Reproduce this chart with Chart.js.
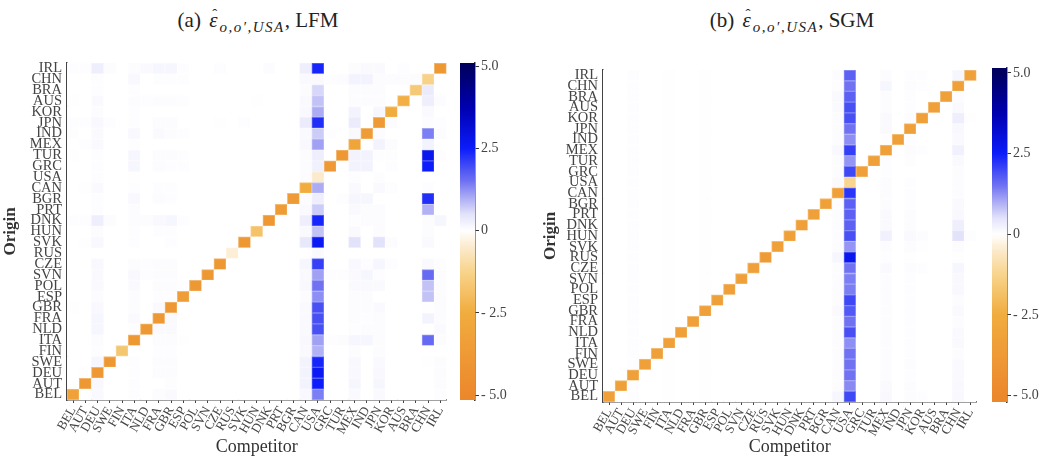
<!DOCTYPE html>
<html>
<head>
<meta charset="utf-8">
<script src="https://cdn.jsdelivr.net/npm/chart.js@4.4.1/dist/chart.umd.min.js"></script>
<style>
  body { margin: 0; background: #fff; width: 1042px; height: 461px; position: relative; overflow: hidden; font-family: "Liberation Serif", serif; }
  canvas { position: absolute; top: 0; }
  .title { position: absolute; top: 8px; font-size: 21px; color: #222; white-space: nowrap; transform: translateX(-50%); }
  .title .eps { position: relative; font-style: italic; margin-left: 3px; }
  .title .eps::after { content: "\02C6"; position: absolute; left: 3px; top: -2px; font-style: normal; font-size: 15px; }
  .title sub { font-size: 15px; font-style: italic; letter-spacing: 1.5px; vertical-align: -5px; margin-left: 2px; }
</style>
</head>
<body>
<div class="title" style="left:258px">(a) <span class="eps">ε</span><sub>o,o′,USA</sub>, LFM</div>
<div class="title" style="left:792px">(b) <span class="eps">ε</span><sub>o,o′,USA</sub>, SGM</div>
<canvas id="lfm" width="455" height="461" style="left:0"></canvas>
<canvas id="lfmBar" width="85" height="461" style="left:455px"></canvas>
<canvas id="sgm" width="445" height="461" style="left:540px"></canvas>
<canvas id="sgmBar" width="57" height="461" style="left:985px"></canvas>
<script>
// countries, same order on both axes (BEL at bottom / left)
const countries = ["BEL","AUT","DEU","SWE","FIN","ITA","NLD","FRA","GBR","ESP",
  "POL","SVN","CZE","RUS","SVK","HUN","DNK","PRT","BGR","CAN",
  "USA","GRC","TUR","MEX","IND","JPN","KOR","AUS","BRA","CHN","IRL"];

// colorbar ticks
const barTicks = [5, 2.5, 0, -2.5, -5];
const barTickLabels = ["5.0", "2.5", "0", "- 2.5", "- 5.0"];

// LFM: one row per origin (BEL ... IRL), values per competitor
const lfm = [
  [-3.2,0,0.1,0,0,0.03,0,0.06,0.08,0, 0,0,0,0,0,0,0,0,0,0.12, 1.4,0,0,0.08,0,0.08,0,0,0,0,0.03],
  [0,-3.9,0.12,0,0,0.03,0,0,0.03,0, 0,0,0,0,0,0,0,0,0,0.2, 2.5,0,0,0.15,0,0.15,0,0,0,0,0.05],
  [0,0.02,-3.9,0,0,0.03,0,0.05,0.05,0, 0,0,0,0,0,0,0,0,0,0.2, 2.6,0,0,0.12,0,0.12,0,0,0,0,0.05],
  [0,0,0.15,-3.9,0,0.03,0,0.05,0.06,0, 0,0,0,0,0,0,0,0,0,0.2, 2.4,0,0,0.12,0,0.1,0,0,0,0.02,0.05],
  [0,0,0.04,0,-1.7,0,0,0.03,0.03,0, 0,0,0,0,0,0,0,0,0,0.08, 0.95,0,0,0.05,0,0.05,0,0,0,0,0],
  [0,0,0.06,0,0,-3.9,0,0.06,0.06,0.02, 0,0,0,0,0,0,0,0,0,0.12, 1.1,0.03,0.05,0.15,0.15,0.05,0,0,0,1.6,0.05],
  [0,0,0.15,0,0,0.04,-3.9,0.08,0.08,0, 0,0,0,0,0,0,0,0,0,0.1, 1.9,0,0,0.03,0.05,0.05,0,0,0,0,0.08],
  [0,0,0.15,0,0,0.08,0,-3.9,0.1,0, 0,0,0,0,0,0,0,0,0,0.1, 1.9,0,0,0.05,0.03,0.05,0,0,0,0.2,0.05],
  [0.02,0,0.12,0,0,0.06,0,0.08,-3.9,0, 0,0,0,0,0,0,0,0,0,0.1, 1.9,0,0,0.05,0.05,0.08,0,0,0,0.02,0.05],
  [0,0,0.06,0,0,0.06,0,0.04,0.04,-3.5, 0,0,0,0,0,0,0,0,0,0.06, 1.25,0,0,0.05,0.05,0,0,0,0,0.8,0.05],
  [0,0,0.1,0,0,0.08,0,0.06,0.06,0.02, -3.9,0,0,0,0,0,0,0,0,0.12, 1.5,0,0,0.08,0.1,0.1,0,0,0,0.8,0.05],
  [0,0,0.08,0,0,0.12,0.03,0.06,0.06,0, 0,-3.9,0,0,0,0,0,0,0,0.08, 1.1,0.03,0.03,0.1,0.15,0.03,0,0,0,1.6,0.05],
  [0,0,0.12,0,0,0.05,0.03,0.06,0.06,0, 0,0,-3.9,0,0,0,0,0,0,0.15, 2.1,0,0,0.12,0.03,0.15,0.03,0,0,0.1,0.03],
  [0,0,0,0,0,0,0,0,0,0, 0,0,0,-0.4,0,0,0,0,0,0, 0.08,0,0,0,0,0,0,0,0,0,0],
  [0,0.02,0.12,0,0,0.03,0,0,0.03,0, 0,0,0,0,-3.9,0,0,0,0,0.4, 2.6,0,0,0.5,0,0.5,0.05,0,0,0.1,0],
  [0,0,0.05,0,0,0.03,0,0.03,0.03,0, 0,0,0,0,0,-1.8,0,0,0,0.1, 0.8,0,0,0.08,0,0.05,0,0,0,0.05,0],
  [0.03,0.03,0.3,0.05,0,0.06,0.06,0.12,0.15,0.03, 0,0,0,0,0,0,-3.9,0,0,0.3, 2.4,0,0,0.03,0.05,0.05,0,0,0,0.05,0.15],
  [0,0,0.03,0,0,0.05,0,0,0,0, 0,0,0,0,0,0,0,-3.6,0,0.08, 0.7,0,0,0.1,0.05,0.05,0,0,0,0.95,0],
  [0,0,0.03,0,0,0.12,0,0.05,0.03,0, 0,0,0,0,0,0,0,0,-3.7,0.05, 0.3,0,0.03,0.15,0.15,0,0,0,0,2.3,0],
  [0,0.02,0.08,0,0,0.03,0,0.04,0.04,0, 0,0,0,0,0,0,0,0,0,-2.5, 1.0,0,0,0.1,0,0.1,0.03,0,0,0.03,0],
  [0,0,0.04,0,0,0.02,0,0,0,0, 0,0,0,0,0,0,0,0,0,0.05, -0.5,0,0,0.03,0,0.03,0,0,0,0,0],
  [0,0,0.03,0,0,0.15,0,0.05,0.03,0.03, 0,0,0,0,0,0,0,0,0,0.05, 0.25,-3.8,0,0.2,0.2,0,0.03,0,0,2.5,0],
  [0.02,0,0.03,0,0,0.15,0,0.06,0.05,0.03, 0,0,0,0,0,0,0,0,0,0.05, 0.3,0,-3.9,0.2,0.2,0.03,0.03,0,0,2.7,0.03],
  [0,0.03,0.08,0,0,0.03,0,0,0,0, 0,0,0,0,0,0,0,0,0,0.12, 1.1,0,0,-3.0,0,0.2,0.05,0,0,0.2,0],
  [0.03,0,0.08,0,0,0.12,0,0.08,0.06,0.03, 0,0,0,0,0,0,0,0,0,0.1, 0.7,0.03,0,0.1,-3.6,0.05,0,0,0,1.4,0.05],
  [0.03,0.03,0.12,0.03,0,0.03,0,0.05,0.05,0, 0,0,0.02,0,0.03,0,0,0,0,0.35, 2.3,0,0,0.35,0,-3.7,0.05,0,0,0.05,0.03],
  [0,0,0.05,0,0,0.03,0,0,0,0, 0,0,0,0,0,0,0,0,0,0.12, 1.0,0,0,0.2,0,0.15,-2.5,0,0,0.1,0],
  [0.02,0,0.08,0,0,0.05,0.03,0.06,0.06,0.03, 0,0,0,0,0,0.02,0,0,0,0.08, 0.8,0,0,0.05,0.05,0.05,0,-2.4,0,0.3,0.05],
  [0,0,0.03,0,0,0.03,0,0,0,0, 0,0,0,0,0,0,0,0,0,0.05, 0.6,0,0,0.05,0.05,0.05,0,0,-1.6,0.35,0],
  [0,0,0.03,0,0,0.12,0,0.03,0.03,0.03, 0,0,0,0,0,0,0,0,0,0.08, 0.1,0.03,0.05,0.2,0.2,0.05,0.05,0.05,0.05,-1.3,0],
  [0.03,0.03,0.3,0.05,0,0.05,0.08,0.15,0.15,0.03, 0,0,0.03,0,0,0,0.05,0,0,0.3, 2.4,0,0,0.05,0.1,0.1,0,0.03,0,0,-3.9]
];

// SGM: one row per origin (BEL ... IRL)
const sgm = [
  [-3.3,0,0.04,0,0,0.02,0,0,0.02,0, 0,0,0,0,0,0,0,0,0,0.15, 2.0,0,0,0.12,0,0.06,0.03,0,0,0.12,0],
  [0,-3.3,0.04,0,0,0.02,0,0,0.02,0, 0,0,0,0,0,0,0,0,0,0.06, 1.3,0,0,0.08,0,0.05,0,0,0,0.12,0],
  [0,0,-3.3,0,0,0.02,0,0,0.02,0, 0,0,0,0,0,0,0,0,0,0.06, 1.5,0,0,0.06,0,0.03,0,0,0,0.1,0],
  [0,0,0.04,-3.3,0,0.02,0,0,0.02,0, 0,0,0,0,0,0,0,0,0,0.05, 1.5,0,0,0.06,0,0.05,0,0,0,0.1,0],
  [0,0,0.04,0,-3.3,0.02,0,0,0.02,0, 0,0,0,0,0,0,0,0,0,0.05, 1.5,0,0,0.05,0,0.03,0,0,0,0.06,0],
  [0,0,0.04,0,0,-3.3,0,0,0.02,0, 0,0,0,0,0,0,0,0,0,0.05, 1.25,0,0,0.06,0,0.03,0,0,0,0.1,0],
  [0,0,0.04,0,0,0.02,-3.3,0,0.02,0, 0,0,0,0,0,0,0,0,0,0.05, 1.9,0,0,0.05,0,0.03,0,0,0,0.08,0],
  [0,0,0.04,0,0,0.02,0,-3.3,0.02,0, 0,0,0,0,0,0,0,0,0,0.05, 1.5,0,0,0.05,0,0.03,0,0,0,0.06,0],
  [0,0,0.04,0,0,0.02,0,0,-3.3,0, 0,0,0,0,0,0,0,0,0,0.08, 1.8,0,0,0.05,0,0.03,0,0,0,0.08,0],
  [0,0,0.04,0,0,0.02,0,0,0.02,-3.3, 0,0,0,0,0,0,0,0,0,0.05, 2.0,0,0,0.05,0,0.03,0,0,0,0.06,0],
  [0,0,0.04,0,0,0.02,0,0,0.02,0, -3.3,0,0,0,0,0,0,0,0,0.05, 1.4,0,0,0.06,0,0.03,0,0,0,0.12,0],
  [0,0,0.04,0,0,0.02,0,0,0.02,0, 0,-3.3,0,0,0,0,0,0,0,0.05, 1.4,0,0,0.06,0,0.04,0,0,0,0.12,0],
  [0,0,0.04,0,0,0.02,0,0,0.02,0, 0,0,-3.3,0,0,0,0,0,0,0.05, 1.5,0,0,0.08,0,0.06,0.03,0,0,0.15,0],
  [0,0,0.04,0,0,0.02,0,0,0.02,0, 0,0,0,-3.7,0,0,0,0,0,0.15, 2.7,0,0,0.03,0,0.02,0,0,0,0.02,0],
  [0,0,0.04,0,0,0.02,0,0,0.02,0, 0,0,0,0,-3.3,0,0,0,0,0.05, 1.2,0,0,0.05,0,0.05,0.02,0,0,0.06,0],
  [0,0,0.04,0,0,0.02,0,0,0.02,0, 0,0,0,0,0,-3.3,0,0,0,0.05, 1.9,0,0,0.25,0,0.1,0.05,0,0,0.5,0.03],
  [0,0,0.04,0,0,0.02,0,0,0.02,0, 0,0,0,0,0,0,-3.3,0,0,0.05, 1.7,0,0,0.1,0,0.06,0,0,0,0.3,0],
  [0,0,0.04,0,0,0.02,0,0,0.02,0, 0,0,0,0,0,0,0,-3.3,0,0.05, 1.7,0,0,0.08,0,0.05,0,0,0,0.12,0],
  [0,0,0.04,0,0,0.02,0,0,0.02,0, 0,0,0,0,0,0,0,0,-3.3,0.03, 1.7,0,0,0.06,0,0.03,0,0,0,0.1,0],
  [0,0,0.04,0,0,0.02,0,0,0.02,0, 0,0,0,0,0,0,0,0,0,-3.3, 2.2,0,0,0.06,0,0.03,0,0,0,0.05,0],
  [0,0,0.04,0,0,0.02,0,0,0.02,0, 0,0,0,0,0,0,0,0,0,0.08, -1.2,0,0,0.05,0,0.03,0,0,0,0.05,0],
  [0,0,0.04,0,0,0.02,0,0,0.02,0, 0,0,0,0,0,0,0,0,0,0.06, 2.0,-3.3,0,0.03,0,0,0,0,0,0.06,0],
  [0,0,0.04,0,0,0.02,0,0,0.02,0, 0,0,0,0,0,0,0,0,0,0.05, 1.2,0,-3.3,0.03,0,0.03,0,0,0,0.08,0],
  [0,0,0.04,0,0,0.02,0,0,0.02,0, 0,0,0,0,0,0,0,0,0,0.12, 2.1,0,0,-3.3,0,0.05,0.03,0,0,0.25,0],
  [0,0,0.04,0,0,0.02,0,0,0.02,0, 0,0,0,0,0,0,0,0,0,0.05, 1.25,0,0,0.03,-3.3,0.03,0,0,0,0.1,0],
  [0,0,0.04,0,0,0.02,0,0,0.02,0, 0,0,0,0,0,0,0,0,0,0.06, 1.5,0,0,0.08,0,-3.3,0,0,0,0.12,0],
  [0,0,0.04,0,0,0.02,0,0,0.02,0, 0,0,0,0,0,0,0,0,0,0.06, 1.9,0,0,0.1,0,0.06,-3.3,0,0,0.3,0.02],
  [0,0,0.04,0,0,0.02,0,0,0.02,0, 0,0,0,0,0,0,0,0,0,0.08, 1.9,0,0,0.05,0,0.03,0,-3.3,0,0.08,0],
  [0,0,0.04,0,0,0.02,0,0,0.02,0, 0,0,0,0,0,0,0,0,0,0.1, 1.7,0,0,0.05,0,0.03,0,0,-3.3,0.06,0],
  [0,0,0.04,0,0,0.02,0,0,0.02,0, 0,0,0,0,0,0,0,0,0,0.03, 1.5,0,0,0.15,0,0.05,0.03,0,0,-3.3,0],
  [0,0,0.04,0,0,0.02,0,0,0.02,0, 0,0,0,0,0,0,0,0,0,0.05, 1.7,0,0,0.06,0,0.03,0.03,0,0,0.15,-3.3]
];

// diverging colour map: white at 0, blue above, orange below
const posStops = [[0,[255,255,255]],[0.5,[226,226,250]],[1,[172,172,245]],[1.5,[112,114,242]],
  [2,[62,72,245]],[2.5,[12,28,250]],[3.75,[0,0,175]],[5,[0,0,95]]];
const negStops = [[0,[255,255,255]],[0.5,[252,234,204]],[1.25,[248,212,140]],[2.5,[241,172,62]],[5,[236,136,44]]];

function rgbFor(v) {
  const stops = v >= 0 ? posStops : negStops;
  const a = Math.min(Math.abs(v), 5);
  for (let i = 1; i < stops.length; i++) {
    if (a <= stops[i][0]) {
      const [v0, c0] = stops[i - 1], [v1, c1] = stops[i];
      const t = (a - v0) / (v1 - v0);
      return c0.map((x, k) => Math.round(x + (c1[k] - x) * t));
    }
  }
  return stops[stops.length - 1][1];
}
function colorFor(v) {
  const c = rgbFor(v);
  return `rgb(${c[0]},${c[1]},${c[2]})`;
}
// slightly lighter edge round each cell
function edgeFor(v) {
  const c = rgbFor(v).map(x => Math.round(x + (255 - x) * 0.3));
  return `rgb(${c[0]},${c[1]},${c[2]})`;
}

const axisColor = '#444';
const serif = '"Liberation Serif", serif';

function heatmap(id, matrix, box) {
  const datasets = matrix.map((row, k) => ({
    data: countries.map(() => [k - 0.5, k + 0.5]),
    backgroundColor: row.map(colorFor),
    borderColor: row.map(edgeFor),
    borderWidth: 1,
    borderSkipped: false,
    barPercentage: 1,
    categoryPercentage: 1,
    grouped: false
  }));
  return new Chart(document.getElementById(id), {
    type: 'bar',
    data: { labels: countries, datasets },
    options: {
      responsive: false,
      animation: false,
      layout: { padding: { top: box.top, right: box.right, left: 0, bottom: 0 } },
      plugins: { legend: { display: false }, tooltip: { enabled: false } },
      scales: {
        x: {
          grid: { display: true, drawOnChartArea: false, drawTicks: true, tickLength: 3, color: axisColor, offset: false },
          border: { display: true, color: axisColor, width: 1.5 },
          ticks: { autoSkip: false, maxRotation: 60, minRotation: 60, padding: 1, color: '#444', font: { family: serif, size: 13 } },
          title: { display: true, text: 'Competitor', color: '#333', font: { family: serif, size: 18 }, padding: { top: 0, bottom: 3 } },
          afterFit: s => { s.height = box.xHeight; }
        },
        y: {
          min: -0.5, max: 30.5,
          afterBuildTicks: s => { s.ticks = countries.map((c, i) => ({ value: i })); },
          grid: { display: true, drawOnChartArea: false, drawTicks: false },
          border: { display: true, color: axisColor, width: 1.5 },
          ticks: { autoSkip: false, padding: 5, color: '#444', font: { family: serif, size: 14.5 },
            callback: v => countries[v] },
          title: { display: true, text: 'Origin', color: '#333', font: { family: serif, size: 17, weight: 'bold' }, padding: 0 },
          afterFit: s => { s.width = box.yWidth; }
        }
      }
    }
  });
}

function colorbar(id, box) {
  return new Chart(document.getElementById(id), {
    type: 'bar',
    data: {
      labels: [''],
      datasets: [{
        data: [[box.min, box.max]],
        barPercentage: 1, categoryPercentage: 1, borderWidth: 0,
        backgroundColor: ctx => {
          const chart = ctx.chart;
          if (!chart.chartArea) return '#fff';
          const y = chart.scales.y;
          const y0 = y.getPixelForValue(box.min), y1 = y.getPixelForValue(box.max);
          const g = chart.ctx.createLinearGradient(0, y0, 0, y1);
          const pos = v => (v - box.min) / (box.max - box.min);
          negStops.slice().reverse().forEach(([v]) => g.addColorStop(pos(-v), colorFor(-v)));
          posStops.forEach(([v]) => g.addColorStop(pos(v), colorFor(v)));
          return g;
        }
      }]
    },
    options: {
      responsive: false,
      animation: false,
      layout: { padding: { top: box.top, bottom: box.bottom, left: box.left, right: 0 } },
      plugins: { legend: { display: false }, tooltip: { enabled: false } },
      scales: {
        x: { display: false },
        y: {
          position: 'right',
          min: box.min, max: box.max,
          afterBuildTicks: s => { s.ticks = barTicks.map(v => ({ value: v })); },
          grid: { display: true, drawOnChartArea: false, drawTicks: true, tickLength: 4, color: '#333' },
          border: { display: true, color: '#333', width: 1.5 },
          ticks: { autoSkip: false, padding: 2, color: '#444', font: { family: serif, size: 14 },
            callback: v => barTickLabels[barTicks.indexOf(v)] },
          afterFit: s => { s.width = box.yWidth; }
        }
      }
    }
  });
}

heatmap('lfm', lfm, { top: 63, right: 5, xHeight: 61, yWidth: 67 });
colorbar('lfmBar', { top: 63, bottom: 61, left: 5, yWidth: 65, min: -5.15, max: 5.1 });
heatmap('sgm', sgm, { top: 70, right: 3, xHeight: 59, yWidth: 63 });
colorbar('sgmBar', { top: 68, bottom: 59, left: 7, yWidth: 35, min: -5.2, max: 5.15 });
</script>
</body>
</html>
